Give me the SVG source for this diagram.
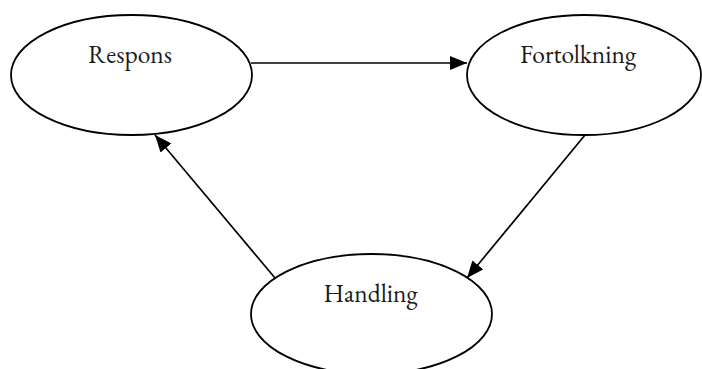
<svg xmlns="http://www.w3.org/2000/svg" width="702" height="369" viewBox="0 0 702 369">
  <style>
    .node ellipse { fill: #ffffff; stroke: #000000; stroke-width: 1.8; }
    .node text { font-family: "EB Garamond", "Liberation Serif", serif; font-size: 25.5px; fill: #1a1a1a; text-anchor: middle; }
    .edge { stroke: #000000; stroke-width: 1.7; fill: none; marker-end: url(#arrow); }
  </style>
  <defs>
    <marker id="arrow" viewBox="0 0 17 14" refX="17" refY="7" markerWidth="17" markerHeight="14" markerUnits="userSpaceOnUse" orient="auto">
      <path d="M0,0 L17,7 L0,14 Z" fill="#000000"/>
    </marker>
  </defs>
  <rect width="702" height="369" fill="#ffffff"/>

  <g id="respons" class="node">
    <ellipse cx="131.5" cy="75" rx="120.5" ry="60"/>
    <text x="130" y="63">Respons</text>
  </g>

  <g id="fortolkning" class="node">
    <ellipse cx="584" cy="75" rx="117" ry="60"/>
    <text x="578" y="63">Fortolkning</text>
  </g>

  <g id="handling" class="node">
    <ellipse cx="371.5" cy="314" rx="120.5" ry="60"/>
    <text x="370.5" y="302">Handling</text>
  </g>

  <g id="connectors">
    <line class="edge" x1="251" y1="63" x2="467" y2="63"/>
    <line class="edge" x1="585" y1="135" x2="467" y2="278"/>
    <line class="edge" x1="275" y1="278" x2="155" y2="135"/>
  </g>
</svg>
